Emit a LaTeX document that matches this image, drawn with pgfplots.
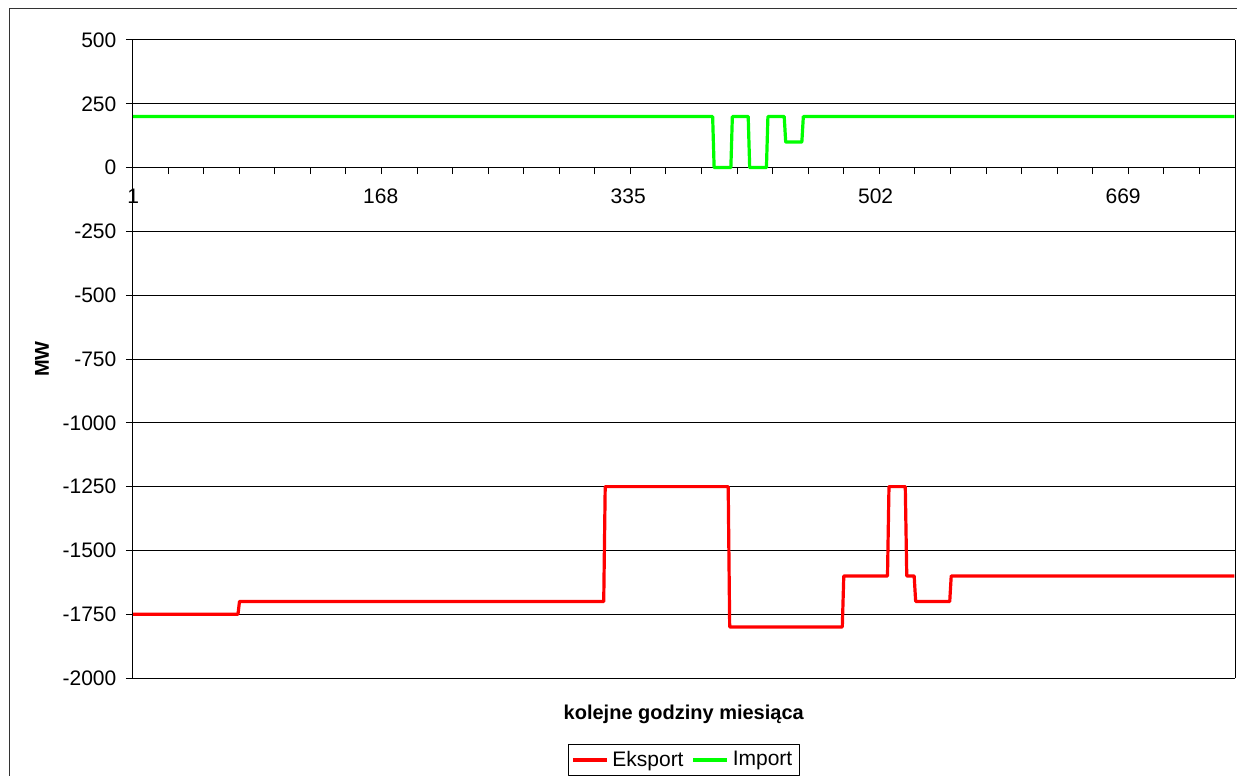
\documentclass[border=0pt]{standalone}
\usepackage{fontspec}
\setmainfont{Liberation Sans}
\usepackage{pgfplots}
\pgfplotsset{compat=1.18}
\definecolor{eksport}{RGB}{255,0,0}
\definecolor{import}{RGB}{0,255,0}
\newcommand{\chartfont}{\fontsize{10.5pt}{12.6pt}\selectfont}
\begin{document}
\begin{tikzpicture}
\begin{axis}[
  at={(0,0)}, anchor=south west,
  scale only axis, width=551.25pt, height=319pt,
  xmin=0, xmax=744, ymin=-2000, ymax=500,
  axis x line*=middle, axis y line*=box,
  hide obscured x ticks=false,
  axis line style={black, line width=0.5pt},
  tick style={black, line width=0.5pt},
  tick align=outside, major tick length=3.25pt,
  xtick={0,24,...,744}, xticklabels={},
  extra x ticks={0.5,167.5,334.5,501.5,668.5},
  extra x tick labels={1,168,335,502,669},
  extra x tick style={major tick length=0pt, xticklabel style={yshift=-7.3pt}},
  ytick={-2000,-1750,...,500},
  yticklabels={-2000,-1750,-1500,-1250,-1000,-750,-500,-250,0,250,500},
  ytick pos=left,
  yticklabel style={xshift=-1.3pt},
  ymajorgrids, grid style={black, line width=0.5pt},
  tick label style={font=\chartfont},
  xlabel={\bfseries kolejne godziny miesiąca},
  ylabel={\bfseries MW},
  label style={font=\chartfont},
  every axis x label/.style={at={(axis description cs:0.5,-0.0564)}, anchor=center},
  every axis y label/.style={at={(axis description cs:-0.0821,0.5)}, anchor=center, rotate=90},
  legend columns=2,
  legend style={at={(axis description cs:0.5,-0.1285)}, anchor=center,
    draw=black, line width=0.5pt, inner xsep=1.5pt, inner ysep=1pt,
    font=\chartfont,
    /tikz/every even column/.append style={column sep=2pt}},
  legend image code/.code={\draw[#1, line width=1.6pt] (0pt,0pt) -- (17pt,0pt);},
  line join=round,
]
\addplot[eksport, line width=1.6pt] coordinates {
  (0.5,-1750) (71.2,-1750) (72.2,-1700) (318,-1700) (319,-1250)
  (402,-1250) (403,-1800) (479,-1800) (480,-1600) (509.5,-1600)
  (510.5,-1250) (521.5,-1250) (522.5,-1600) (527.5,-1600) (528.5,-1700)
  (551.5,-1700) (552.5,-1600) (743.5,-1600)
};
\addlegendentry{Eksport}
\addplot[import, line width=1.6pt] coordinates {
  (0.5,200) (391.5,200) (392.5,0) (403.8,0) (404.8,200) (415.5,200)
  (416.5,0) (427.8,0) (428.8,200) (439.8,200) (440.8,100) (451.7,100)
  (452.7,200) (743.5,200)
};
\addlegendentry{Import}
\end{axis}
% chart area border
\draw[black!80, line width=0.5pt] (-61.25pt,-60pt) -- (-61.25pt,334.5pt) -- (600pt,334.5pt);
\pgfresetboundingbox
\path[use as bounding box] (-66.25pt,-49pt) rectangle (552.25pt,339pt);
\end{tikzpicture}
\end{document}
